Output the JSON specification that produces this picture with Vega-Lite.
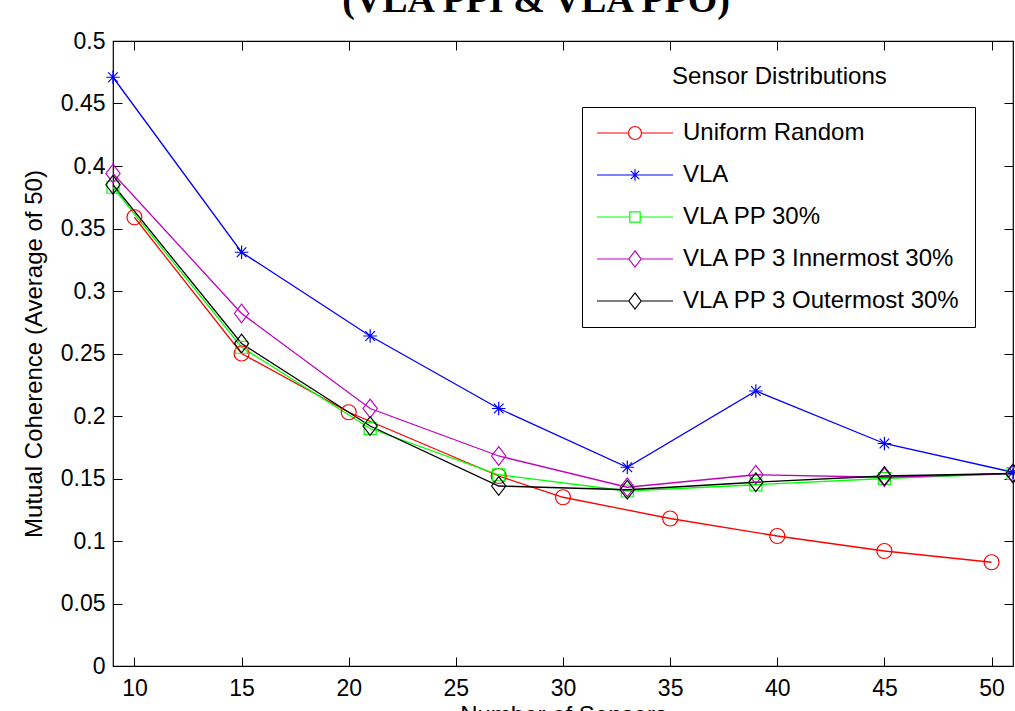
{
  "$schema": "https://vega.github.io/schema/vega-lite/v6.json",
  "width": 900,
  "height": 625,
  "autosize": {"type": "none"},
  "padding": {"left": 113, "top": 41, "right": 2, "bottom": 45},
  "background": "white",
  "title": {
    "text": "(VLA PPI & VLA PPO)",
    "font": "Liberation Serif",
    "fontSize": 38,
    "fontWeight": "bold",
    "color": "black",
    "anchor": "middle",
    "frame": "group",
    "baseline": "alphabetic",
    "offset": 13,
    "dy": 33,
    "dx": -27
  },
  "config": {
    "font": "Liberation Sans",
    "view": {"stroke": "black", "strokeWidth": 1.2},
    "axis": {
      "domain": false,
      "grid": false,
      "tickColor": "black",
      "tickWidth": 1,
      "tickSize": -9,
      "labelColor": "black",
      "labelFont": "Liberation Sans",
      "labelFontSize": 23,
      "titleColor": "black",
      "titleFont": "Liberation Sans",
      "titleFontSize": 24,
      "titleFontWeight": "normal"
    },
    "legend": {
      "orient": "none",
      "legendX": 469,
      "legendY": 66,
      "strokeColor": "black",
      "fillColor": "white",
      "padding": 14,
      "symbolOffset": 27,
      "labelOffset": 36,
      "labelLimit": 0,
      "labelFont": "Liberation Sans",
      "labelFontSize": 24,
      "labelColor": "black",
      "symbolSize": 169,
      "symbolStrokeWidth": 1.2,
      "symbolFillColor": "transparent",
      "rowPadding": 18
    }
  },
  "data": {
    "values": [
      {"series": "Uniform Random", "x": 10, "y": 0.359},
      {"series": "Uniform Random", "x": 15, "y": 0.250},
      {"series": "Uniform Random", "x": 20, "y": 0.203},
      {"series": "Uniform Random", "x": 27, "y": 0.152},
      {"series": "Uniform Random", "x": 30, "y": 0.135},
      {"series": "Uniform Random", "x": 35, "y": 0.118},
      {"series": "Uniform Random", "x": 40, "y": 0.104},
      {"series": "Uniform Random", "x": 45, "y": 0.092},
      {"series": "Uniform Random", "x": 50, "y": 0.083},
      {"series": "VLA", "x": 9, "y": 0.471},
      {"series": "VLA", "x": 15, "y": 0.331},
      {"series": "VLA", "x": 21, "y": 0.264},
      {"series": "VLA", "x": 27, "y": 0.206},
      {"series": "VLA", "x": 33, "y": 0.159},
      {"series": "VLA", "x": 39, "y": 0.220},
      {"series": "VLA", "x": 45, "y": 0.178},
      {"series": "VLA", "x": 51, "y": 0.155},
      {"series": "VLA PP 30%", "x": 9, "y": 0.383},
      {"series": "VLA PP 30%", "x": 15, "y": 0.255},
      {"series": "VLA PP 30%", "x": 21, "y": 0.190},
      {"series": "VLA PP 30%", "x": 27, "y": 0.153},
      {"series": "VLA PP 30%", "x": 33, "y": 0.140},
      {"series": "VLA PP 30%", "x": 39, "y": 0.145},
      {"series": "VLA PP 30%", "x": 45, "y": 0.150},
      {"series": "VLA PP 30%", "x": 51, "y": 0.154},
      {"series": "VLA PP 3 Innermost 30%", "x": 9, "y": 0.394},
      {"series": "VLA PP 3 Innermost 30%", "x": 15, "y": 0.282},
      {"series": "VLA PP 3 Innermost 30%", "x": 21, "y": 0.206},
      {"series": "VLA PP 3 Innermost 30%", "x": 27, "y": 0.168},
      {"series": "VLA PP 3 Innermost 30%", "x": 33, "y": 0.143},
      {"series": "VLA PP 3 Innermost 30%", "x": 39, "y": 0.153},
      {"series": "VLA PP 3 Innermost 30%", "x": 45, "y": 0.151},
      {"series": "VLA PP 3 Innermost 30%", "x": 51, "y": 0.154},
      {"series": "VLA PP 3 Outermost 30%", "x": 9, "y": 0.385},
      {"series": "VLA PP 3 Outermost 30%", "x": 15, "y": 0.258},
      {"series": "VLA PP 3 Outermost 30%", "x": 21, "y": 0.192},
      {"series": "VLA PP 3 Outermost 30%", "x": 27, "y": 0.144},
      {"series": "VLA PP 3 Outermost 30%", "x": 33, "y": 0.141},
      {"series": "VLA PP 3 Outermost 30%", "x": 39, "y": 0.147},
      {"series": "VLA PP 3 Outermost 30%", "x": 45, "y": 0.152},
      {"series": "VLA PP 3 Outermost 30%", "x": 51, "y": 0.154}
    ]
  },
  "layer": [
    {
      "mark": {"type": "line", "strokeWidth": 1.3},
      "encoding": {
        "x": {
          "field": "x",
          "type": "quantitative",
          "scale": {"domain": [9, 51], "nice": false, "zero": false},
          "axis": {
            "orient": "bottom",
            "values": [10, 15, 20, 25, 30, 35, 40, 45, 50],
            "labelPadding": 20,
            "title": "Number of Sensors",
            "titlePadding": 3
          }
        },
        "y": {
          "field": "y",
          "type": "quantitative",
          "scale": {"domain": [0, 0.5], "nice": false},
          "axis": {
            "orient": "left",
            "values": [0, 0.05, 0.1, 0.15, 0.2, 0.25, 0.3, 0.35, 0.4, 0.45, 0.5],
            "labelPadding": 17,
            "format": "~g",
            "title": "Mutual Coherence (Average of 50)",
            "titlePadding": 14
          }
        },
        "color": {
          "field": "series",
          "type": "nominal",
          "title": null,
          "scale": {
            "domain": ["Uniform Random", "VLA", "VLA PP 30%", "VLA PP 3 Innermost 30%", "VLA PP 3 Outermost 30%"],
            "range": ["#ff0000", "#0000ff", "#00ff00", "#bf00bf", "#000000"]
          },
          "legend": {
            "symbolType": {
              "expr": "datum.value === 'Uniform Random' ? 'M-5.85,0L-1,0M1,0L5.85,0M1,0A1,1,0,1,1,-1,0A1,1,0,1,1,1,0Z' : datum.value === 'VLA' ? 'M-5.85,0L5.85,0M0,-0.9L0,0.9M-0.64,-0.64L0.64,0.64M-0.64,0.64L0.64,-0.64' : datum.value === 'VLA PP 30%' ? 'M-5.85,0L-0.8,0M0.8,0L5.85,0M-0.8,-0.8L0.8,-0.8L0.8,0.8L-0.8,0.8Z' : 'M-5.85,0L-0.95,0M0.95,0L5.85,0M0,-1.25L0.95,0L0,1.25L-0.95,0Z'"
            }
          }
        }
      }
    },
    {
      "transform": [{"filter": "datum.series === 'Uniform Random'"}],
      "mark": {"type": "point", "filled": false, "size": 225, "strokeWidth": 1.2, "opacity": 1, "shape": "M1,0A1,1,0,1,1,-1,0A1,1,0,1,1,1,0Z"},
      "encoding": {
        "x": {"field": "x", "type": "quantitative", "axis": null},
        "y": {"field": "y", "type": "quantitative", "axis": null},
        "color": {"field": "series", "type": "nominal", "title": null}
      }
    },
    {
      "transform": [{"filter": "datum.series === 'VLA'"}],
      "mark": {"type": "point", "filled": false, "size": 225, "strokeWidth": 1.2, "opacity": 1, "shape": "M-0.9,0L0.9,0M0,-0.9L0,0.9M-0.64,-0.64L0.64,0.64M-0.64,0.64L0.64,-0.64"},
      "encoding": {
        "x": {"field": "x", "type": "quantitative", "axis": null},
        "y": {"field": "y", "type": "quantitative", "axis": null},
        "color": {"field": "series", "type": "nominal", "title": null}
      }
    },
    {
      "transform": [{"filter": "datum.series === 'VLA PP 30%'"}],
      "mark": {"type": "point", "filled": false, "size": 225, "strokeWidth": 1.2, "opacity": 1, "shape": "M-0.8,-0.8L0.8,-0.8L0.8,0.8L-0.8,0.8Z"},
      "encoding": {
        "x": {"field": "x", "type": "quantitative", "axis": null},
        "y": {"field": "y", "type": "quantitative", "axis": null},
        "color": {"field": "series", "type": "nominal", "title": null}
      }
    },
    {
      "transform": [{"filter": {"field": "series", "oneOf": ["VLA PP 3 Innermost 30%", "VLA PP 3 Outermost 30%"]}}],
      "mark": {"type": "point", "filled": false, "size": 225, "strokeWidth": 1.2, "opacity": 1, "shape": "M0,-1.25L0.95,0L0,1.25L-0.95,0Z"},
      "encoding": {
        "x": {"field": "x", "type": "quantitative", "axis": null},
        "y": {"field": "y", "type": "quantitative", "axis": null},
        "color": {"field": "series", "type": "nominal", "title": null}
      }
    },
    {
      "data": {"values": [{}]},
      "mark": {"type": "text", "font": "Liberation Sans", "fontSize": 24, "color": "black", "align": "center", "baseline": "middle"},
      "encoding": {
        "x": {
          "datum": 40.1,
          "type": "quantitative",
          "axis": {"orient": "top", "values": [10, 15, 20, 25, 30, 35, 40, 45, 50], "labels": false, "title": null}
        },
        "y": {
          "datum": 0.471,
          "type": "quantitative",
          "axis": {"orient": "right", "values": [0, 0.05, 0.1, 0.15, 0.2, 0.25, 0.3, 0.35, 0.4, 0.45, 0.5], "labels": false, "title": null}
        },
        "text": {"value": "Sensor Distributions"}
      }
    }
  ],
  "resolve": {"axis": {"x": "independent", "y": "independent"}}
}
